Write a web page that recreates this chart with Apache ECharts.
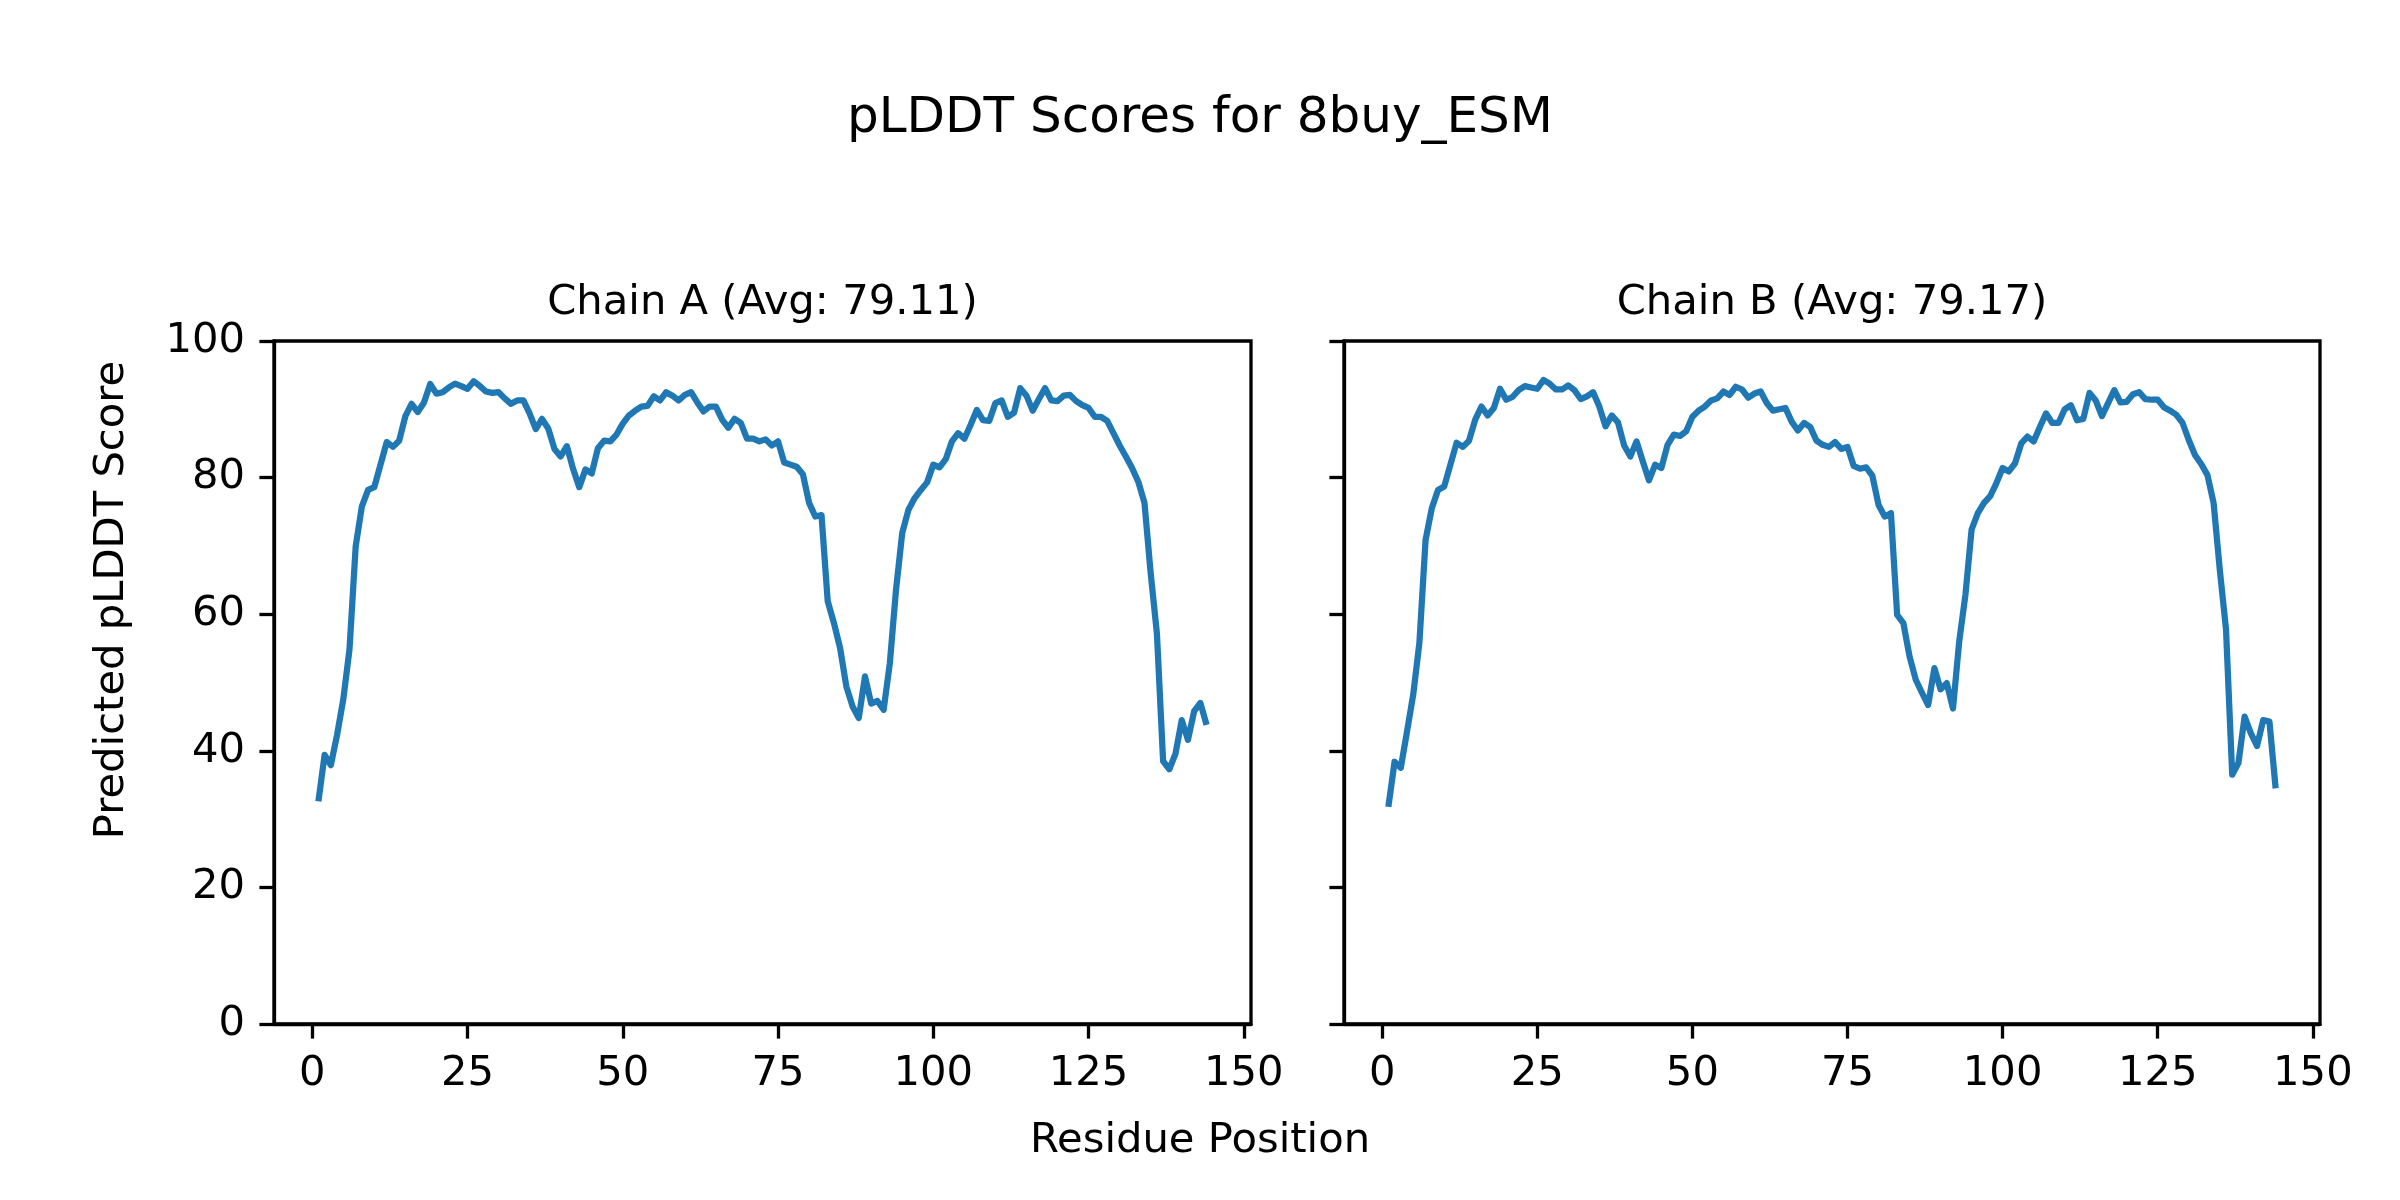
<!DOCTYPE html>
<html>
<head>
<meta charset="utf-8">
<script src="https://cdn.jsdelivr.net/npm/echarts@6/dist/echarts.min.js"></script>
<style>
html,body{margin:0;padding:0;background:#fff;}
#chart{width:2400px;height:1200px;}
</style>
</head>
<body>
<div id="chart"></div>
<script>
const chartTitle = "pLDDT Scores for 8buy_ESM";
const chainTitles = ["Chain A (Avg: 79.11)", "Chain B (Avg: 79.17)"];
const xLabel = "Residue Position";
const yLabel = "Predicted pLDDT Score";
const xTicks = [0, 25, 50, 75, 100, 125, 150];
const yTicks = [0, 20, 40, 60, 80, 100];

const chainA = [
  32.6, 39.4, 37.9, 42.3, 47.5, 54.8, 69.9, 75.8, 78.2, 78.6,
  81.9, 85.2, 84.5, 85.4, 89.0, 90.8, 89.6, 91.0, 93.7, 92.3,
  92.5, 93.2, 93.75, 93.4, 93.0, 94.1, 93.4, 92.6, 92.4, 92.5,
  91.6, 90.8, 91.3, 91.3, 89.4, 87.1, 88.6, 87.2, 84.2, 83.1,
  84.6, 81.3, 78.6, 81.2, 80.6, 84.3, 85.4, 85.3, 86.3, 87.9,
  89.1, 89.8, 90.4, 90.5, 91.9, 91.3, 92.5, 92.0, 91.3, 92.1,
  92.5, 91.0, 89.7, 90.4, 90.4, 88.5, 87.3, 88.6, 88.0, 85.7,
  85.7, 85.3, 85.6, 84.7, 85.3, 82.2, 81.9, 81.6, 80.5, 76.3,
  74.3, 74.5, 61.9, 58.7, 55.0, 49.4, 46.5, 44.8, 50.9, 46.9,
  47.3, 46.0, 52.8, 63.6, 71.9, 75.3, 77.0, 78.2, 79.3, 81.9,
  81.5, 82.7, 85.3, 86.5, 85.7, 87.7, 89.9, 88.4, 88.3, 90.9,
  91.3, 88.9, 89.5, 93.1, 92.0, 89.8, 91.5, 93.1, 91.3, 91.2,
  92.0, 92.1, 91.2, 90.6, 90.2, 88.9, 88.9, 88.3, 86.5, 84.7,
  83.1, 81.4, 79.4, 76.3, 66.0, 57.2, 38.5, 37.3, 39.6, 44.5,
  41.6, 45.8, 47.0, 43.8
];

const chainB = [
  31.8, 38.4, 37.5, 42.8, 48.2, 55.8, 70.9, 75.5, 78.2, 78.7,
  81.9, 85.1, 84.5, 85.4, 88.5, 90.4, 89.1, 90.2, 93.0, 91.4,
  91.8, 92.8, 93.4, 93.2, 93.0, 94.3, 93.75, 92.9, 92.9, 93.5,
  92.8, 91.5, 91.9, 92.5, 90.4, 87.5, 89.1, 88.1, 84.7, 83.1,
  85.3, 82.4, 79.6, 81.9, 81.4, 84.8, 86.3, 86.1, 86.8, 88.9,
  89.8, 90.4, 91.3, 91.6, 92.6, 92.1, 93.3, 92.9, 91.7, 92.3,
  92.6, 90.9, 89.8, 90.0, 90.2, 88.2, 86.9, 88.0, 87.4, 85.4,
  84.8, 84.5, 85.2, 84.2, 84.5, 81.7, 81.3, 81.5, 80.3, 76.0,
  74.3, 74.8, 59.9, 58.7, 53.8, 50.4, 48.5, 46.7, 52.1, 49.0,
  49.9, 46.2, 56.0, 62.8, 72.4, 74.8, 76.3, 77.3, 79.2, 81.4,
  80.9, 82.1, 85.0, 86.0, 85.3, 87.4, 89.4, 88.0, 88.0, 90.0,
  90.6, 88.4, 88.6, 92.4, 91.3, 89.0, 90.9, 92.8, 91.0, 91.1,
  92.2, 92.5, 91.5, 91.4, 91.4, 90.3, 89.8, 89.2, 88.0, 85.5,
  83.3, 82.0, 80.4, 76.3, 66.5, 57.8, 36.5, 38.2, 45.0, 42.6,
  40.7, 44.5, 44.3, 34.5
];

const FONT = '"DejaVu Sans", sans-serif';
const LW = 3.3;

function toPairs(arr) { return arr.map((v, i) => [i + 1, v]); }

function makeX(idx) {
  return {
    gridIndex: idx, type: 'value', min: -6.15, max: 151.15,
    axisLine: { show: true, onZero: false, lineStyle: { color: '#000', width: LW } },
    axisTick: { show: true, length: 14.6, customValues: xTicks, lineStyle: { color: '#000', width: LW } },
    axisLabel: { show: true, customValues: xTicks, margin: 29, fontSize: 41.7, color: '#000', fontFamily: FONT },
    splitLine: { show: false }
  };
}
function makeY(idx, showLabels) {
  return {
    gridIndex: idx, type: 'value', min: 0, max: 100, interval: 20,
    axisLine: { show: true, onZero: false, lineStyle: { color: '#000', width: LW } },
    axisTick: { show: true, length: 14.6, lineStyle: { color: '#000', width: LW } },
    axisLabel: { show: showLabels, margin: 29, fontSize: 41.7, color: '#000', fontFamily: FONT },
    splitLine: { show: false }
  };
}

function txt(x, y, text, size, rot) {
  return {
    type: 'text', x: x, y: y, rotation: rot || 0,
    style: {
      text: text, font: size + 'px ' + FONT, fill: '#000',
      textAlign: 'center', textVerticalAlign: 'middle',
      align: 'center', verticalAlign: 'middle'
    }
  };
}

const chart = echarts.init(document.getElementById('chart'), null, { renderer: 'canvas' });
chart.setOption({
  animation: false,
  backgroundColor: '#fff',
  grid: [
    { left: 274, top: 341, width: 977, height: 683, show: true, borderColor: '#000', borderWidth: LW, backgroundColor: 'rgba(0,0,0,0)' },
    { left: 1344, top: 341, width: 976, height: 683, show: true, borderColor: '#000', borderWidth: LW, backgroundColor: 'rgba(0,0,0,0)' }
  ],
  xAxis: [makeX(0), makeX(1)],
  yAxis: [makeY(0, true), makeY(1, false)],
  series: [
    { type: 'line', xAxisIndex: 0, yAxisIndex: 0, data: toPairs(chainA), showSymbol: false, symbol: 'none', clip: true,
      lineStyle: { color: '#1f77b4', width: 6.25, join: 'round' }, itemStyle: { color: '#1f77b4' } },
    { type: 'line', xAxisIndex: 1, yAxisIndex: 1, data: toPairs(chainB), showSymbol: false, symbol: 'none', clip: true,
      lineStyle: { color: '#1f77b4', width: 6.25, join: 'round' }, itemStyle: { color: '#1f77b4' } }
  ],
  graphic: [
    txt(1200, 119, chartTitle, 50),
    txt(762.5, 303, chainTitles[0], 41.7),
    txt(1832, 303, chainTitles[1], 41.7),
    txt(1200, 1141, xLabel, 41.7),
    txt(112, 600, yLabel, 41.7, Math.PI / 2)
  ]
});
</script>
</body>
</html>
